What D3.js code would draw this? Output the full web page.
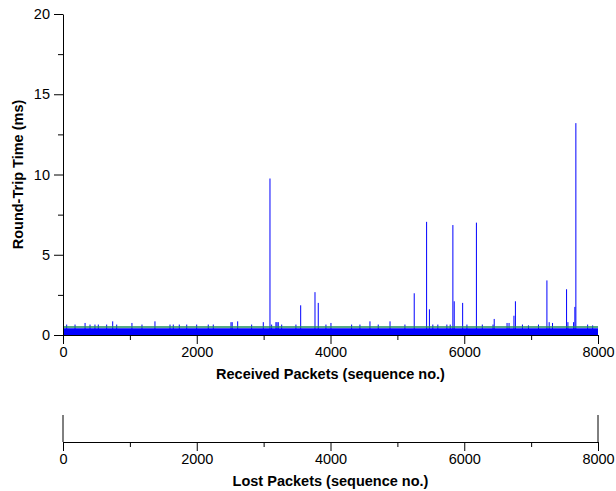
<!DOCTYPE html>
<html>
<head>
<meta charset="utf-8">
<script src="https://cdn.jsdelivr.net/npm/d3@7"></script>
<style>
  body { margin: 0; background: #fff; }
  svg { display: block; font-family: "Liberation Sans", Arial, sans-serif; }
  .tick text { font-size: 14.5px; fill: #000; }
  .axis-title { font-size: 14.5px; font-weight: bold; }
</style>
</head>
<body>
<div id="chart"></div>
<script>
// tick labels
const xTicks = [0, 2000, 4000, 6000, 8000];
const xMinor = [1000, 3000, 5000, 7000];
const yTicks = [0, 5, 10, 15, 20];
const yMinor = [2.5, 7.5, 12.5, 17.5];

// baseline RTT band (ms) over the received sequence range
const baseSeq = [0, 8000];
const baseRtt = [0.42, 0.42];
// green reference line (ms)
const refRtt = [0.5, 0.5];

// RTT spikes: sequence no. and RTT (ms)
const spikeSeq = [55, 180, 330, 404, 478, 528, 653, 743, 803, 1031, 1181, 1375, 1600,
  1649, 1739, 1850, 1999, 2172, 2247, 2512, 2530, 2612, 2821, 2995, 3095, 3120, 3184,
  3200, 3219, 3270, 3483, 3554, 3768, 3817, 3932, 4007, 4316, 4440, 4590, 4714, 4890,
  5113, 5252, 5437, 5479, 5530, 5605, 5740, 5790, 5830, 5850, 5976, 6040, 6182, 6270,
  6430, 6448, 6640, 6670, 6743, 6765, 6870, 6960, 7110, 7236, 7270, 7320, 7530, 7550,
  7635, 7654, 7669, 7845, 7920];
const spikeRtt = [0.65, 0.65, 0.75, 0.65, 0.65, 0.65, 0.65, 0.85, 0.65, 0.75, 0.65, 0.85, 0.65,
  0.65, 0.65, 0.65, 0.65, 0.65, 0.65, 0.8, 0.8, 0.85, 0.65, 0.8, 9.75, 0.65, 0.8,
  0.8, 0.8, 0.65, 0.65, 1.85, 2.67, 2.0, 0.65, 0.75, 0.65, 0.65, 0.85, 0.65, 0.85,
  0.65, 2.6, 7.05, 1.6, 0.65, 0.65, 0.65, 0.65, 6.85, 2.1, 2.0, 0.65, 7.0, 0.65,
  0.65, 1.0, 0.75, 0.75, 1.2, 2.1, 0.65, 0.6, 0.65, 3.4, 0.8, 0.75, 2.85, 0.8,
  0.8, 1.75, 13.2, 0.65, 0.6];

// lost packets (none visible)
const lostSeq = [];

const W = 616, H = 491;
const margin = { left: 63, right: 598, top: 14, bottom: 335 };
const lostY = 442, lostTop = 415;
const fmt = d3.format('d');

const svg = d3.select('#chart').append('svg')
  .attr('width', W).attr('height', H);

const x = d3.scaleLinear().domain([0, 8000]).range([margin.left, margin.right]);
const y = d3.scaleLinear().domain([0, 20]).range([margin.bottom, margin.top]);

// baseline band
const base = baseSeq.map((s, i) => ({ s, v: baseRtt[i] }));
svg.append('path')
  .datum(base)
  .attr('fill', '#0000ff')
  .attr('d', d3.area().x(d => x(d.s)).y0(y(0)).y1(d => y(d.v)));

// spikes
const spikes = spikeSeq.map((s, i) => ({ s, v: spikeRtt[i] }));
svg.append('g').selectAll('line')
  .data(spikes)
  .join('line')
  .attr('x1', d => x(d.s)).attr('x2', d => x(d.s))
  .attr('y1', y(0)).attr('y2', d => y(d.v))
  .attr('stroke', '#0000ff')
  .attr('stroke-width', 1);

// green reference line
const ref = baseSeq.map((s, i) => ({ s, v: refRtt[i] }));
svg.append('path')
  .datum(ref)
  .attr('fill', 'none')
  .attr('stroke', '#1e8c5c')
  .attr('stroke-width', 1.5)
  .attr('d', d3.line().x(d => x(d.s)).y(d => y(d.v)));

// x axis (received)
svg.append('g')
  .attr('transform', `translate(0,${margin.bottom})`)
  .call(d3.axisBottom(x).tickValues(xTicks).tickFormat(fmt).tickSize(9).tickSizeOuter(0).tickPadding(3));
svg.append('g')
  .attr('transform', `translate(0,${margin.bottom})`)
  .call(d3.axisBottom(x).tickValues(xMinor).tickSize(5).tickFormat(''))
  .select('.domain').remove();

// y axis
svg.append('g')
  .attr('transform', `translate(${margin.left},0)`)
  .call(d3.axisLeft(y).tickValues(yTicks).tickFormat(fmt).tickSize(9).tickSizeOuter(0).tickPadding(4));
svg.append('g')
  .attr('transform', `translate(${margin.left},0)`)
  .call(d3.axisLeft(y).tickValues(yMinor).tickSize(5).tickFormat(''))
  .select('.domain').remove();

svg.append('text')
  .attr('class', 'axis-title')
  .attr('x', (margin.left + margin.right) / 2).attr('y', 379)
  .attr('text-anchor', 'middle')
  .text('Received Packets (sequence no.)');

svg.append('text')
  .attr('class', 'axis-title')
  .attr('transform', `translate(23,${(margin.top + margin.bottom) / 2}) rotate(-90)`)
  .attr('text-anchor', 'middle')
  .text('Round-Trip Time (ms)');

// lost packets axis
const xl = x.copy();
svg.append('g')
  .attr('transform', `translate(0,${lostY})`)
  .call(d3.axisBottom(xl).tickValues(xTicks).tickFormat(fmt).tickSize(9).tickSizeOuter(0).tickPadding(3));
svg.append('g')
  .attr('transform', `translate(0,${lostY})`)
  .call(d3.axisBottom(xl).tickValues(xMinor).tickSize(5).tickFormat(''))
  .select('.domain').remove();
svg.append('g').selectAll('line')
  .data([0, 8000])
  .join('line')
  .attr('x1', d => xl(d)).attr('x2', d => xl(d))
  .attr('y1', lostTop).attr('y2', lostY)
  .attr('stroke', '#000');
svg.append('g').selectAll('line')
  .data(lostSeq)
  .join('line')
  .attr('x1', d => xl(d)).attr('x2', d => xl(d))
  .attr('y1', lostTop).attr('y2', lostY)
  .attr('stroke', '#ff0000');

svg.append('text')
  .attr('class', 'axis-title')
  .attr('x', (margin.left + margin.right) / 2).attr('y', 486)
  .attr('text-anchor', 'middle')
  .text('Lost Packets (sequence no.)');
</script>
</body>
</html>
